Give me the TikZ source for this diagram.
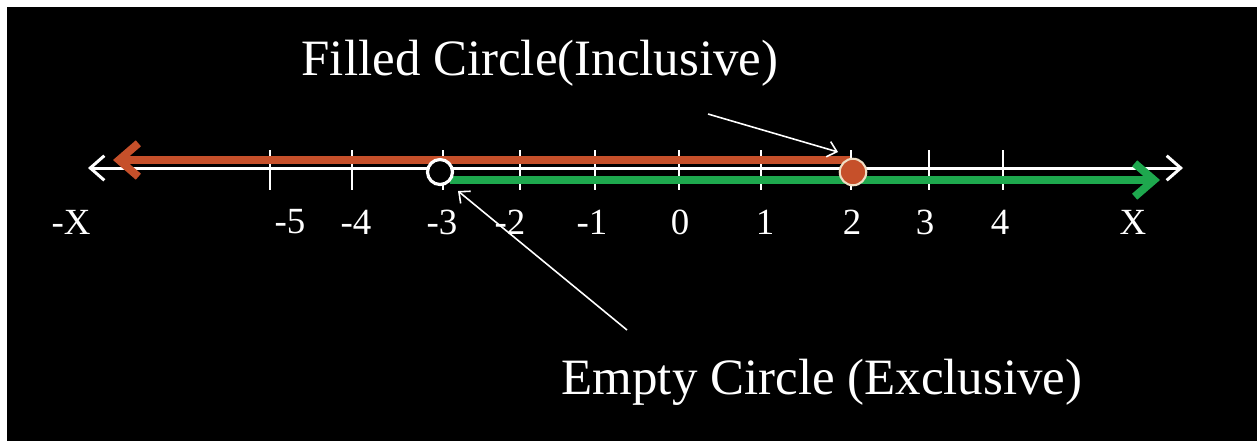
\documentclass[tikz,border=0pt]{standalone}
\usepackage{fontspec}
\setmainfont{Liberation Serif}
\usetikzlibrary{arrows.meta, positioning}
\definecolor{rayred}{RGB}{198,80,42}
\definecolor{raygreen}{RGB}{30,168,78}
\definecolor{dotrim}{RGB}{240,222,196}

\begin{document}
\begin{tikzpicture}[
      x=0.02cm, y=-0.02cm,
      axis/.style={white, line width=1.7pt, {Straight Barb[length=8pt,width=14pt]}-{Straight Barb[length=8pt,width=14pt]}},
      tickmark/.style={white, line width=1pt},
      ray/.style={line width=4.5pt, -{Straight Barb[length=11pt,width=19pt]}},
      pointer/.style={white, line width=0.9pt, -{Straight Barb[length=5pt,width=9pt]}},
      numlabel/.style={text=white, font=\fontsize{21}{24}\selectfont, inner sep=0pt},
      note/.style={text=white, font=\fontsize{29}{34}\selectfont, inner sep=0pt, anchor=base},
      opendot/.style={circle, draw=white, fill=black, line width=1.8pt, minimum size=0.5cm, inner sep=0pt},
      fulldot/.style={circle, draw=dotrim, fill=rayred, line width=1.2pt, minimum size=0.53cm, inner sep=0pt}
    ]
      % background with thin white margin
      \fill[white] (0,0) rectangle (1257,441);
      \fill[black] (7,7) rectangle (1257,441);
      \useasboundingbox (0,0) rectangle (1257,441);

      % number line
      \coordinate (axL) at (88,168);
      \coordinate (axR) at (1183,168);
      \draw[axis] (axL) -- (axR);
      \foreach \tx/\lx/\lab in {270/290/-5, 352/356/-4, 443/442/-3, 520/510/-2, 595/592/-1,
                               679/680/0, 761/765/1, 851/852/2, 929/925/3, 1003/1000/4} {
        \draw[tickmark] (\tx,150) -- (\tx,190);
        \node[numlabel] (n\lab) at (\lx,222) {\lab};
      }
      \node[numlabel] (negx) at (71,222) {-X};
      \node[numlabel] (posx) at (1133,222) {X};

      % solution rays
      \coordinate (redS) at (850,160);
      \coordinate (redE) at (113,160);
      \draw[ray, rayred] (redS) -- (redE);
      \coordinate (greenS) at (450,180);
      \coordinate (greenE) at (1160,180);
      \draw[ray, raygreen] (greenS) -- (greenE);

      % end points
      \node[opendot] (open) at (440,172) {};
      \node[fulldot] (full) at (853,172) {};

      % notes
      \node[note] (fillnote) at (540,75) {Filled Circle(Inclusive)};
      \node[note] (emptynote) at (822,394) {Empty Circle (Exclusive)};
      \coordinate (fillfrom) at (708,114);
      \coordinate (fillto) at (838,152);
      \draw[pointer] (fillfrom) -- (fillto);
      \coordinate (emptyfrom) at (627,330);
      \coordinate (emptyto) at (458,191);
      \draw[pointer] (emptyfrom) -- (emptyto);
    \end{tikzpicture}
\end{document}
